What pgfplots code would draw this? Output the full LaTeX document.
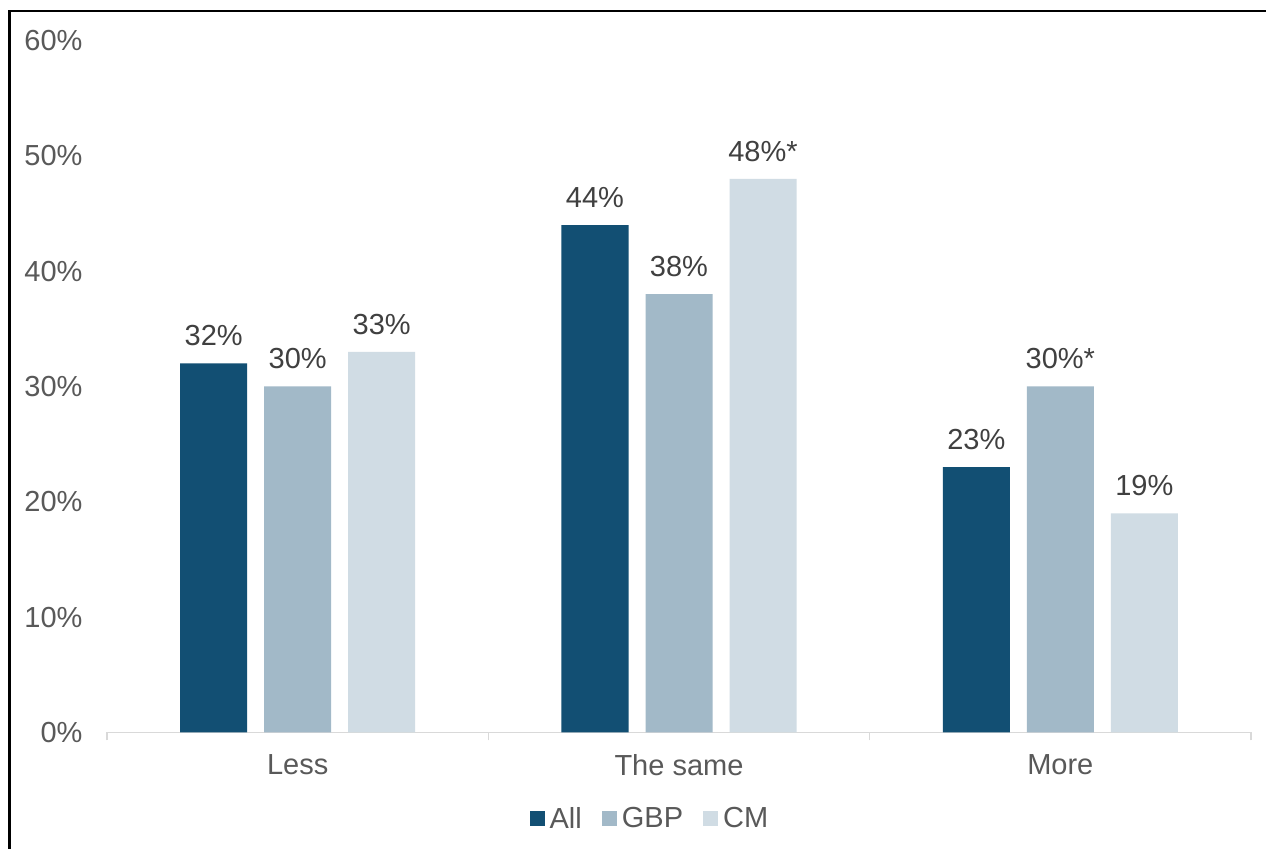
\documentclass[border=0pt]{standalone}
\usepackage{pgfplots}
\pgfplotsset{compat=1.18}
\usepackage{fontspec}
\setmainfont{Liberation Sans}
\definecolor{cAll}{HTML}{124F73}
\definecolor{cGBP}{HTML}{A2B9C8}
\definecolor{cCM}{HTML}{D0DCE4}
\definecolor{tickgray}{HTML}{595959}
\definecolor{lblgray}{HTML}{404040}
\definecolor{axgray}{HTML}{D9D9D9}
\begin{document}
\begin{tikzpicture}
\useasboundingbox (0,0) rectangle (633pt,-424.5pt);
\fill[white] (0,0) rectangle (633pt,-424.5pt);
\draw[black, line width=1.2pt] (4.8pt,-424.5pt) -- (4.8pt,-5.5pt) -- (633pt,-5.5pt);
\begin{axis}[
  at={(53.5pt,-366.25pt)}, anchor=south west,
  scale only axis, width=572pt, height=346pt,
  xmin=-0.5, xmax=2.5, ymin=0, ymax=60,
  ybar, bar width=33.5pt,
  axis x line*=bottom, axis y line*=left,
  y axis line style={draw=none}, ytick style={draw=none},
  x axis line style={draw=axgray, line width=0.75pt},
  xtick={-0.5,0.5,1.5,2.5}, xticklabels={},
  x tick style={draw=axgray, line width=0.75pt},
  tick align=outside, major tick length=4pt,
  extra x ticks={0,1,2}, extra x tick labels={Less,The same,More},
  extra x tick style={major tick length=0pt, tick style={draw=none}},
  ytick={0,10,...,60}, yticklabel={\pgfmathprintnumber{\tick}\%},
  /pgf/number format/assume math mode=true,
  tick label style={font=\fontsize{14.5}{17}\selectfont, text=tickgray},
  xticklabel style={yshift=-7.5pt},
  yticklabel style={xshift=-4.7pt},
  nodes near coords=\pgfplotspointmeta, point meta=explicit symbolic,
  nodes near coords style={font=\fontsize{14.5}{17}\selectfont, text=lblgray, anchor=south, inner sep=0pt, yshift=8.5pt},
  legend columns=-1,
  legend image code/.code={\fill[#1] (0pt,-3.75pt) rectangle (7.5pt,3.75pt);},
  legend style={draw=none, fill=none, font=\fontsize{14.5}{17}\selectfont, text=tickgray,
    at={(axis description cs:0.475,-0.125)}, anchor=center,
    nodes={inner sep=1.5pt},
    /tikz/every odd column/.append style={column sep=1pt},
    /tikz/every even column/.append style={column sep=8.5pt}},
]
\addplot[fill=cAll, draw=none, bar shift=-42pt] coordinates {(0,32) [32\%] (1,44) [44\%] (2,23) [23\%]};
\addplot[fill=cGBP, draw=none, bar shift=0pt] coordinates {(0,30) [30\%] (1,38) [38\%] (2,30) [30\%*]};
\addplot[fill=cCM, draw=none, bar shift=42pt] coordinates {(0,33) [33\%] (1,48) [48\%*] (2,19) [19\%]};
\legend{All,GBP,CM}
\end{axis}
\end{tikzpicture}
\end{document}
